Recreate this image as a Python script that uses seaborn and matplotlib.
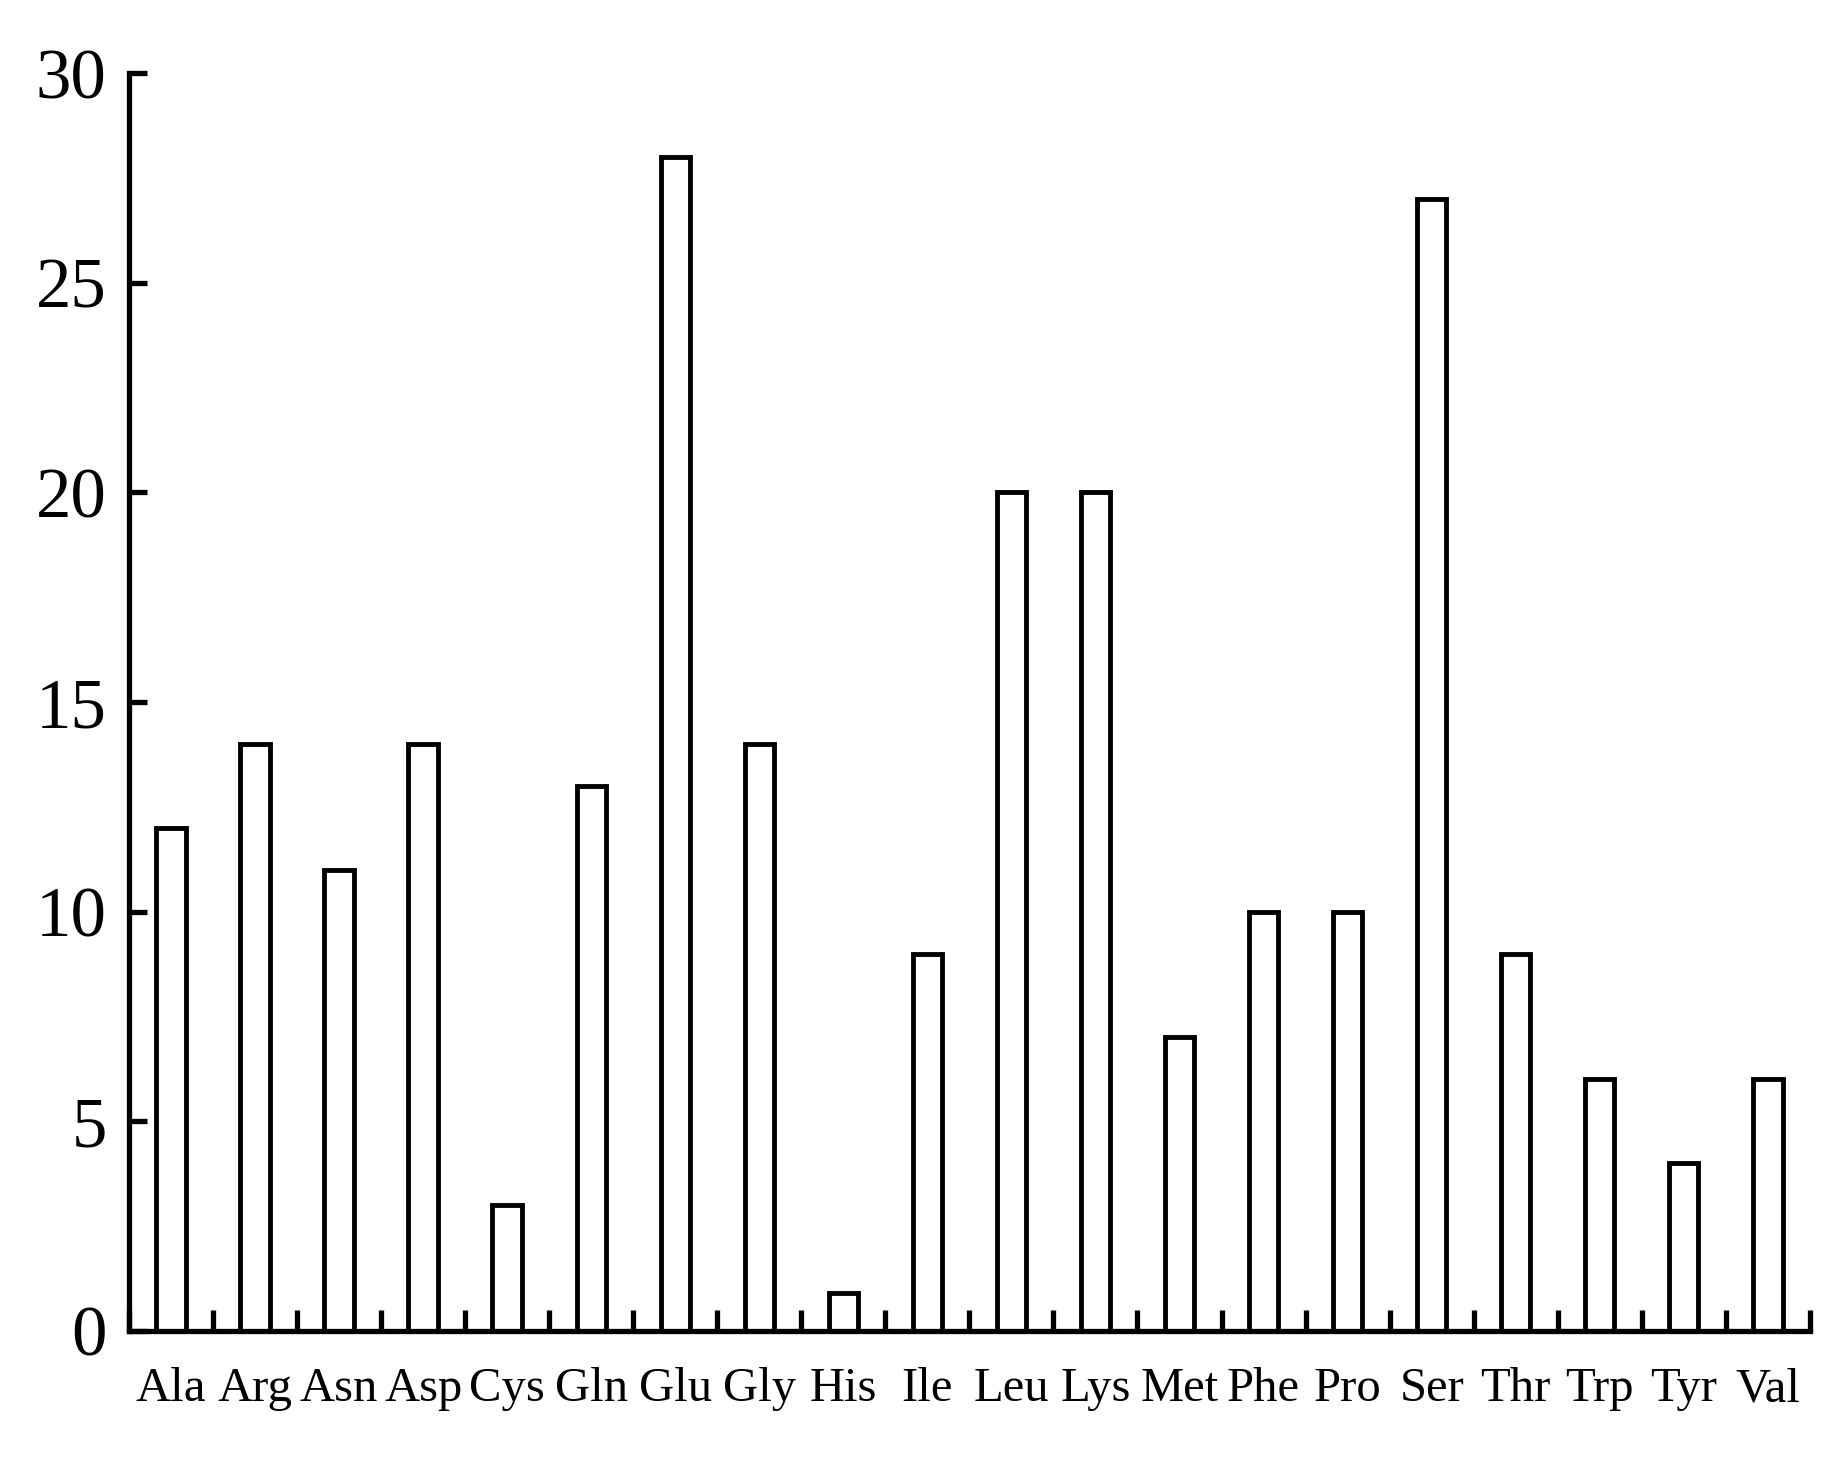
import matplotlib
matplotlib.use("Agg")
import matplotlib.pyplot as plt
import seaborn as sns
import numpy as np

# amino acid counts
amino_acids = ["Ala", "Arg", "Asn", "Asp", "Cys", "Gln", "Glu", "Gly", "His", "Ile",
               "Leu", "Lys", "Met", "Phe", "Pro", "Ser", "Thr", "Trp", "Tyr", "Val"]
counts = [12, 14, 11, 14, 3, 13, 28, 14, 0.9, 9,
          20, 20, 7, 10, 10, 27, 9, 6, 4, 6]
y_ticks = [0, 5, 10, 15, 20, 25, 30]

sns.set_style("ticks")
plt.rcParams["font.family"] = ["Liberation Serif", "DejaVu Serif"]
plt.rcParams["text.color"] = "black"
plt.rcParams["xtick.labelcolor"] = "black"
plt.rcParams["ytick.labelcolor"] = "black"

fig = plt.figure(figsize=(18.43, 14.65), dpi=100)
ax = fig.add_axes([0.070, 0.0915, 0.912, 0.8585])

sns.barplot(x=amino_acids, y=counts, width=0.35, color="white",
            edgecolor="black", linewidth=3.5, ax=ax)

ax.set_xlim(-0.5, len(amino_acids) - 0.5)
ax.set_ylim(0, 30)
ax.set_yticks(y_ticks)
ax.set_yticklabels([str(t) for t in y_ticks], fontsize=51, color="black")

# category labels at centers, tick marks at slot boundaries
ax.set_xticks(np.arange(len(amino_acids)))
ax.set_xticklabels(amino_acids, fontsize=35, color="black")
ax.set_xticks(np.arange(len(amino_acids) + 1) - 0.5, minor=True)
ax.tick_params(axis="x", which="major", length=0, pad=26)
ax.tick_params(axis="x", which="minor", direction="in", length=15, width=3.8, color="black")
ax.tick_params(axis="y", direction="in", length=13, width=3.8, pad=16, color="black")

for side in ["top", "right"]:
    ax.spines[side].set_visible(False)
for side in ["left", "bottom"]:
    ax.spines[side].set_linewidth(3.8)
    ax.spines[side].set_color("black")

ax.set_xlabel("")
ax.set_ylabel("")

fig.savefig("out.png", dpi=100)
plt.close(fig)
